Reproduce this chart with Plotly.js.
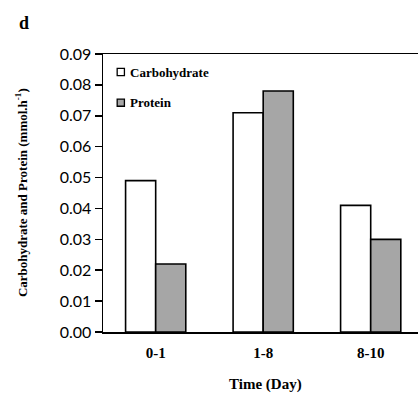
<!DOCTYPE html>
<html>
<head>
<meta charset="utf-8">
<script src="https://cdn.plot.ly/plotly-3.0.1.min.js"></script>
<style>html,body{margin:0;padding:0;background:#fff;}#chart{width:418px;height:398px;}</style>
</head>
<body>
<div id="chart"></div>
<script>
const categories = ["0-1", "1-8", "8-10"];
const seriesNames = ["Carbohydrate", "Protein"];
const carbohydrate = [0.049, 0.071, 0.041];
const protein = [0.022, 0.078, 0.030];
const yTickVals = [0, 0.01, 0.02, 0.03, 0.04, 0.05, 0.06, 0.07, 0.08, 0.09];
const yTickText = ["0.00", "0.01", "0.02", "0.03", "0.04", "0.05", "0.06", "0.07", "0.08", "0.09"];

const serif = "Liberation Serif, Times New Roman, serif";
const fills = ["#ffffff", "#a6a6a6"];
const traces = [
  {type: "bar", name: seriesNames[0], x: categories, y: carbohydrate,
   marker: {color: fills[0], line: {color: "#000000", width: 1.6}}},
  {type: "bar", name: seriesNames[1], x: categories, y: protein,
   marker: {color: fills[1], line: {color: "#000000", width: 1.6}}}
];

// manual legend (small squares + labels) placed inside the plot area
const legendY = [0.935, 0.825];
const shapes = [];
const annotations = [];
seriesNames.forEach((n, i) => {
  shapes.push({type: "rect", xref: "paper", yref: "paper",
    x0: 0.045, x1: 0.068, y0: legendY[i] - 0.013, y1: legendY[i] + 0.013,
    fillcolor: fills[i], line: {color: "#000", width: 1.3}});
  annotations.push({text: n, xref: "paper", yref: "paper", x: 0.078, y: legendY[i],
    xanchor: "left", yanchor: "middle", showarrow: false,
    font: {family: serif, size: 13, color: "#000", weight: "bold"}});
});
annotations.push(
  {text: "d", xref: "paper", yref: "paper", x: -0.25, y: 1.11, xanchor: "center", yanchor: "middle",
   showarrow: false, font: {family: serif, size: 18, color: "#000", weight: "bold"}},
  {text: "Carbohydrate and Protein (mmol.h<sup>-1</sup>)", xref: "paper", yref: "paper",
   x: -0.26, y: 0.5, textangle: -90, xanchor: "center", yanchor: "middle", showarrow: false,
   font: {family: serif, size: 13, color: "#000", weight: "bold"}},
  {text: "Time (Day)", xref: "paper", yref: "paper", x: 0.517, y: -0.19, xanchor: "center", yanchor: "middle",
   showarrow: false, font: {family: serif, size: 15, color: "#000", weight: "bold"}}
);

const layout = {
  width: 418, height: 398,
  margin: {l: 103, r: 0, t: 54, b: 66},
  paper_bgcolor: "#ffffff", plot_bgcolor: "#ffffff",
  barmode: "group", bargap: 0.44, bargroupgap: 0,
  showlegend: false,
  xaxis: {type: "category", range: [-0.49, 2.44], showline: true, linecolor: "#000", linewidth: 1.5,
    mirror: true, ticks: "", showgrid: false, zeroline: false, ticklabelstandoff: 6,
    tickfont: {family: serif, size: 15, color: "#000", weight: "bold"}},
  yaxis: {range: [0, 0.09], tickvals: yTickVals, ticktext: yTickText, showline: true, linecolor: "#000",
    linewidth: 1.5, ticks: "outside", ticklen: 7, tickwidth: 1.5, tickcolor: "#000", showgrid: false,
    zeroline: false, tickfont: {family: "Lato, Open Sans, sans-serif", size: 16, color: "#000"}},
  shapes: shapes,
  annotations: annotations
};
Plotly.newPlot("chart", traces, layout, {displayModeBar: false, staticPlot: true});
</script>
</body>
</html>
